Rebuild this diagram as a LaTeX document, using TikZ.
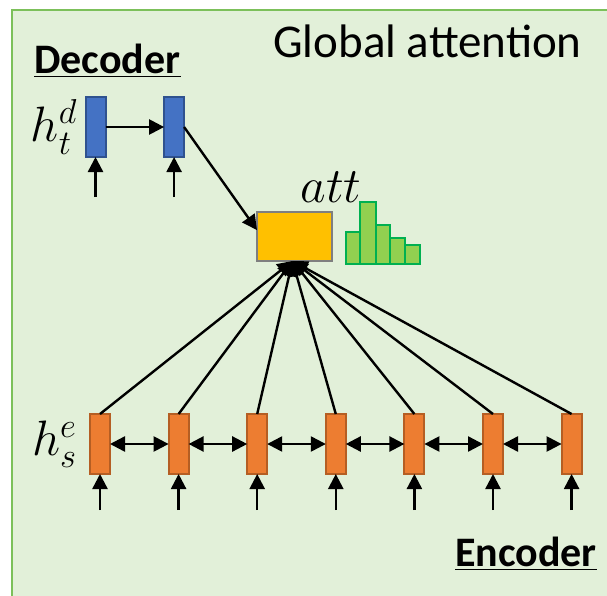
\documentclass[tikz,border=0pt]{standalone}
\usepackage{fontspec}
\newfontfamily\calibri{Carlito}
\usetikzlibrary{arrows.meta, positioning}

\definecolor{bggreen}{HTML}{E2F0D9}
\definecolor{bgline}{HTML}{7CC05A}
\definecolor{decblue}{HTML}{4472C4}
\definecolor{decline}{HTML}{2F528F}
\definecolor{encorange}{HTML}{ED7D31}
\definecolor{encline}{HTML}{B55E23}
\definecolor{attyellow}{HTML}{FFC000}
\definecolor{attgray}{HTML}{7F7F7F}
\definecolor{barfill}{HTML}{92D050}
\definecolor{barline}{HTML}{00B050}

\begin{document}
\begin{tikzpicture}[
    x=0.5pt, y=-0.5pt,
    node distance=29.3pt,
    every node/.style={inner sep=0pt, outer sep=0pt},
    cell/.style={rectangle, minimum width=10pt, minimum height=30pt, line width=1pt},
    decbox/.style={cell, fill=decblue, draw=decline},
    encbox/.style={cell, fill=encorange, draw=encline},
    attbox/.style={rectangle, minimum width=37.5pt, minimum height=24.5pt,
                   fill=attyellow, draw=attgray, line width=1.4pt},
    bar/.style={fill=barfill, draw=barline, line width=1.2pt},
    arr/.style={-{Triangle[length=7.5pt, width=7.5pt]}, line width=1.2pt},
    biarr/.style={{Triangle[length=7.5pt, width=7.5pt]}-{Triangle[length=7.5pt, width=7.5pt]}, line width=1.2pt},
    headline/.style={font=\calibri\fontsize{23.5}{28}\selectfont},
    partname/.style={font=\calibri\bfseries\fontsize{21}{25}\selectfont},
    sym/.style={font=\fontsize{24}{28}\selectfont},
]

\useasboundingbox (0,0) rectangle (607,596);
\clip (0,0) rectangle (607,596);
\path[fill=bggreen, draw=bgline, line width=1.2pt] (12,10) rectangle (640,640);

% decoder side
\node[decbox] (dec1) at (95.5,127) {};
\node[decbox, right=of dec1] (dec2) {};
\node[sym, left=4pt of dec1] (hdec) {$h_t^d$};
\node[partname, anchor=base] (declabel) at (107.5,73) {\underline{Decoder}};

\coordinate[below=20pt of dec1] (din1);
\coordinate[below=20pt of dec2] (din2);

% attention
\node[attbox] (att) at (294.5,236.5) {};
\node[sym, anchor=base] (attlabel) at (331,202) {$att$};
\node[headline, anchor=base] (title) at (427.5,57) {Global attention};

\draw[bar] (346,264) rectangle (360,232);
\draw[bar] (360,264) rectangle (376,202);
\draw[bar] (376,264) rectangle (390,225);
\draw[bar] (390,264) rectangle (405,238);
\draw[bar] (405,264) rectangle (420,245);

% encoder side
\node[encbox] (enc1) at (100,444) {};
\node[encbox, right=of enc1] (enc2) {};
\node[encbox, right=of enc2] (enc3) {};
\node[encbox, right=of enc3] (enc4) {};
\node[encbox, right=of enc4] (enc5) {};
\node[encbox, right=of enc5] (enc6) {};
\node[encbox, right=of enc6] (enc7) {};
\node[sym, left=6.5pt of enc1] (henc) {$h_s^e$};
\node[partname, anchor=base] (enclabel) at (526,566) {\underline{Encoder}};

\coordinate[below=18pt of enc1] (ein1);
\coordinate[below=18pt of enc2] (ein2);
\coordinate[below=18pt of enc3] (ein3);
\coordinate[below=18pt of enc4] (ein4);
\coordinate[below=18pt of enc5] (ein5);
\coordinate[below=18pt of enc6] (ein6);
\coordinate[below=18pt of enc7] (ein7);

% connectors
\draw[arr] (din1) -- (dec1);
\draw[arr] (din2) -- (dec2);
\draw[arr] (dec1) -- (dec2);
\draw[arr] (dec2.east) -- ([yshift=3.2pt]att.west);

\draw[arr] (ein1) -- (enc1);
\draw[arr] (ein2) -- (enc2);
\draw[arr] (ein3) -- (enc3);
\draw[arr] (ein4) -- (enc4);
\draw[arr] (ein5) -- (enc5);
\draw[arr] (ein6) -- (enc6);
\draw[arr] (ein7) -- (enc7);

\draw[biarr] (enc1) -- (enc2);
\draw[biarr] (enc2) -- (enc3);
\draw[biarr] (enc3) -- (enc4);
\draw[biarr] (enc4) -- (enc5);
\draw[biarr] (enc5) -- (enc6);
\draw[biarr] (enc6) -- (enc7);

\draw[arr] (enc1.north) -- ([xshift=-1pt]att.south);
\draw[arr] (enc2.north) -- ([xshift=-1pt]att.south);
\draw[arr] (enc3.north) -- ([xshift=-1pt]att.south);
\draw[arr] (enc4.north) -- ([xshift=-1pt]att.south);
\draw[arr] (enc5.north) -- ([xshift=-1pt]att.south);
\draw[arr] (enc6.north) -- ([xshift=-1pt]att.south);
\draw[arr] (enc7.north) -- ([xshift=-1pt]att.south);

\end{tikzpicture}
\end{document}
